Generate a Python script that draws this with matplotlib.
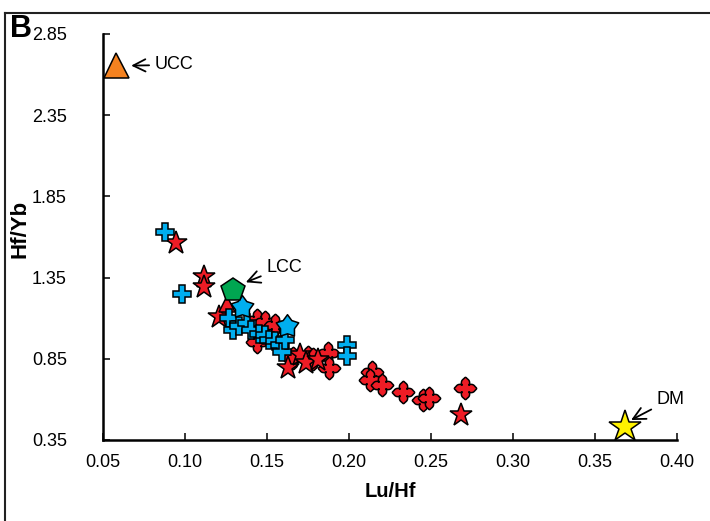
import numpy as np
import matplotlib
matplotlib.use("Agg")
import matplotlib.pyplot as plt
from matplotlib.path import Path

plt.rcParams['font.family'] = ['Liberation Sans', 'DejaVu Sans']

# ---- data ----
blue_cross_x = [0.088, 0.098, 0.127, 0.129, 0.133, 0.138, 0.140, 0.145, 0.149, 0.151,
                0.155, 0.158, 0.159, 0.161, 0.199, 0.199]
blue_cross_y = [1.631, 1.249, 1.101, 1.027, 1.050, 1.070, 1.027, 1.000, 0.997, 0.966,
                0.960, 0.935, 0.892, 0.966, 0.935, 0.867]
blue_star_x = [0.135, 0.162]
blue_star_y = [1.169, 1.050]
red_star_x = [0.0945, 0.1116, 0.1116, 0.121, 0.1628, 0.170, 0.174, 0.181, 0.268]
red_star_y = [1.563, 1.354, 1.292, 1.107, 0.793, 0.873, 0.824, 0.843, 0.504]
red_tri_x = [0.1256]
red_tri_y = [1.19]
red_clover_x = [0.144, 0.149, 0.144, 0.166, 0.175, 0.187, 0.188, 0.214, 0.213,
                0.220, 0.233, 0.245, 0.249, 0.271, 0.155, 0.178]
red_clover_y = [1.089, 1.077, 0.953, 0.855, 0.861, 0.886, 0.793, 0.769, 0.719,
                0.689, 0.646, 0.596, 0.609, 0.670, 1.060, 0.850]
ref_names = ['UCC', 'LCC', 'DM']
ref_x = [0.058, 0.129, 0.368]
ref_y = [2.66, 1.275, 0.43]

x_ticks = [0.05, 0.10, 0.15, 0.20, 0.25, 0.30, 0.35, 0.40]
y_ticks = [0.35, 0.85, 1.35, 1.85, 2.35, 2.85]

# ---- marker shapes ----
def clover_path():
    t = np.linspace(0, 2 * np.pi, 240, endpoint=False)
    c = np.abs(np.cos(2 * t))
    r = 0.42 + 0.48 * c ** 0.7 + 0.10 * c ** 30
    v = np.column_stack([r * np.sin(t), r * np.cos(t)])
    v = np.vstack([v, v[:1]])
    codes = [Path.MOVETO] + [Path.LINETO] * (len(v) - 2) + [Path.CLOSEPOLY]
    return Path(v, codes)

def fat_star_path(inner=0.62):
    ang = np.pi / 2 + np.arange(10) * np.pi / 5
    rr = np.array([1.0, inner] * 5)
    v = np.column_stack([rr * np.cos(ang), rr * np.sin(ang)])
    v = np.vstack([v, v[:1]])
    codes = [Path.MOVETO] + [Path.LINETO] * (len(v) - 2) + [Path.CLOSEPOLY]
    return Path(v, codes)

clover = clover_path()
fatstar = fat_star_path()

fig = plt.figure(figsize=(7.1, 5.21), dpi=100)
ax = fig.add_axes([103 / 710, 1 - 440 / 521, (677 - 103) / 710, (440 - 34) / 521])

red = '#ee1c25'
blue = '#00aeef'
ek = dict(markeredgecolor='black', markeredgewidth=1.1, linestyle='none')

ax.plot(red_clover_x, red_clover_y, marker=clover, markersize=16, color=red, **ek, zorder=3)
ax.plot(red_star_x, red_star_y, marker='*', markersize=17, color=red, **ek, zorder=3)
ax.plot(red_tri_x, red_tri_y, marker='^', markersize=12, color=red, **ek, zorder=3)
ax.plot(blue_cross_x, blue_cross_y, marker='P', markersize=13, color=blue, **ek, zorder=4)
ax.plot(blue_star_x, blue_star_y, marker=fatstar, markersize=17, color=blue, **ek, zorder=4)

ax.plot(ref_x[0], ref_y[0], marker='^', markersize=18, color='#f58220', **ek, zorder=5)
ax.plot(ref_x[1], ref_y[1], marker='p', markersize=18, color='#00a651', **ek, zorder=5)
ax.plot(ref_x[2], ref_y[2], marker='*', markersize=24, color='#fff200', **ek, zorder=5)

arrow = dict(arrowstyle='->', color='black', lw=1.3, mutation_scale=22)
ax.annotate('UCC', xy=(0.0655, 2.655), xytext=(0.0815, 2.66), fontsize=13,
            ha='left', va='center', arrowprops=arrow)
ax.annotate('LCC', xy=(0.1355, 1.315), xytext=(0.1495, 1.415), fontsize=13,
            ha='left', va='center', arrowprops=arrow)
ax.annotate('DM', xy=(0.3705, 0.465), xytext=(0.3875, 0.60), fontsize=13,
            ha='left', va='center', arrowprops=arrow)

ax.set_xlim(0.05, 0.40)
ax.set_ylim(0.35, 2.85)
ax.set_xticks(x_ticks)
ax.set_yticks(y_ticks)
ax.set_xticklabels([f'{v:.2f}' for v in x_ticks])
ax.set_yticklabels([f'{v:.2f}' for v in y_ticks])
ax.spines['top'].set_visible(False)
ax.spines['right'].set_visible(False)
for s in ['left', 'bottom']:
    ax.spines[s].set_linewidth(1.8)
ax.tick_params(axis='both', direction='in', length=5, width=1.1, labelsize=13)
ax.tick_params(axis='y', pad=26)
ax.tick_params(axis='x', pad=10)
ax.set_xlabel('Lu/Hf', fontsize=14.5, fontweight='bold')
ax.set_ylabel('Hf/Yb', fontsize=16, fontweight='bold')
ax.xaxis.set_label_coords(0.5, -0.103)
ax.yaxis.set_label_coords(-0.127, 0.52)

fig.text(10 / 710, 1 - 29 / 521, 'B', fontsize=22, fontweight='bold', va='center', ha='left')

# outer frame (left and top edges)
fig.add_artist(plt.Line2D([5 / 710, 5 / 710], [0, 1 - 13 / 521], color='#222222', lw=1.5,
                          transform=fig.transFigure))
fig.add_artist(plt.Line2D([5 / 710, 1], [1 - 13 / 521, 1 - 13 / 521], color='#222222', lw=1.5,
                          transform=fig.transFigure))

fig.savefig('out.png', dpi=100)
